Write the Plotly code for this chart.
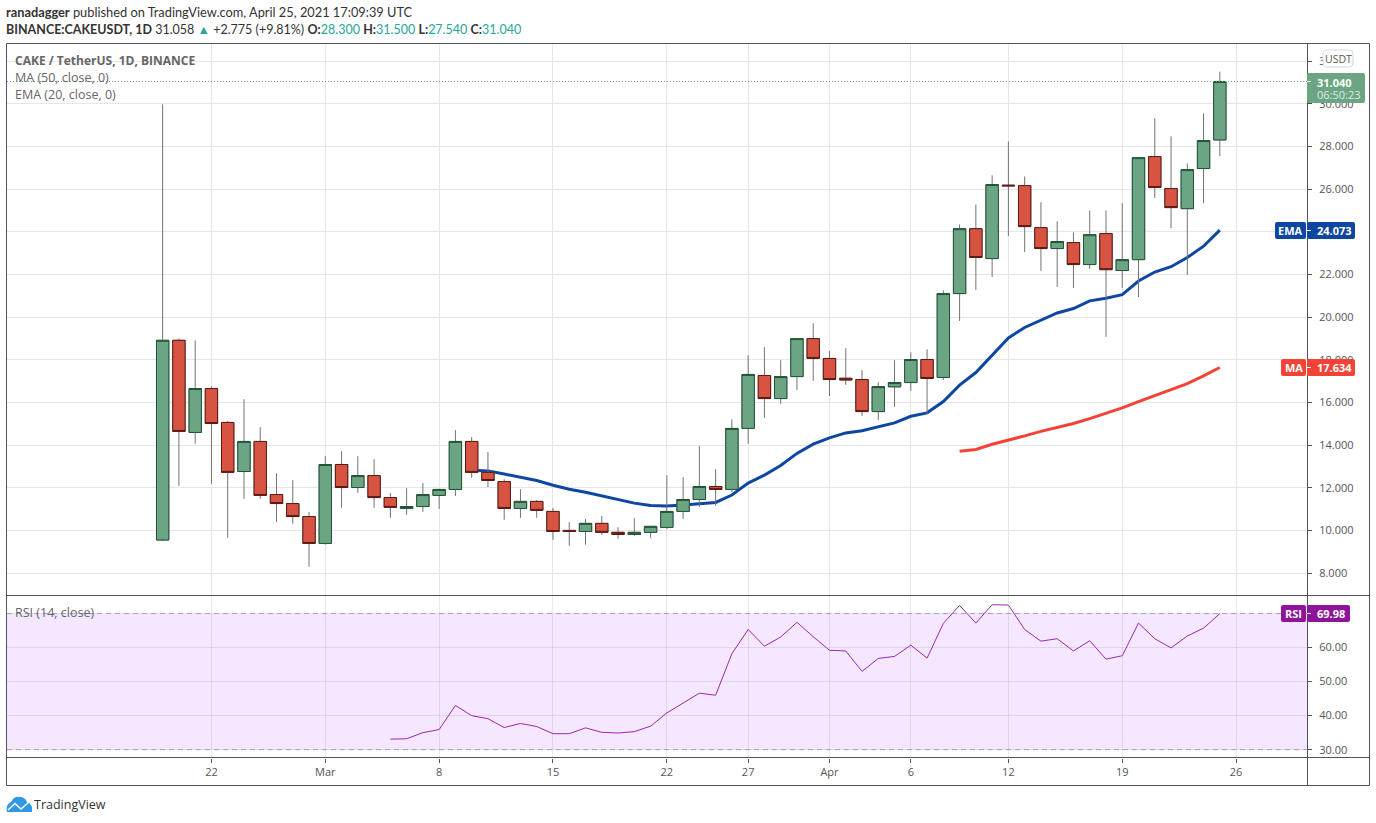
import pandas as pd
import plotly.graph_objects as go

W = 1376
H = 823

dates = pd.date_range("2021-02-19", "2021-04-25", freq="D")

opens = [9.55, 18.91, 14.59, 16.65, 15.06, 12.76, 14.17, 11.68, 11.26, 10.65,
         9.39, 13.09, 12.01, 12.57, 11.54, 11.03, 11.12, 11.64, 11.92, 14.17,
         12.72, 12.29, 11.03, 11.36, 10.89, 10.00, 9.95, 10.33, 9.91, 9.81,
         9.91, 10.14, 10.89, 11.45, 12.06, 11.92, 14.78, 17.26, 16.18, 17.21,
         18.99, 18.06, 17.13, 17.07, 15.57, 16.73, 16.93, 18.01, 17.17, 21.10,
         24.14, 22.74, 26.18, 26.16, 24.19, 23.21, 23.49, 22.46, 23.91, 22.18,
         22.69, 27.52, 26.02, 25.08, 26.96, 28.30]
highs = [29.97, 19.00, 18.91, 16.75, 15.13, 16.15, 14.84, 12.68, 12.36, 10.86,
         13.48, 13.71, 13.48, 13.34, 11.75, 11.98, 12.22, 11.95, 14.70, 14.37,
         13.67, 12.40, 11.93, 11.42, 11.05, 10.39, 10.53, 10.67, 10.15, 10.58,
         10.20, 12.59, 12.50, 13.95, 12.87, 15.21, 18.21, 18.59, 17.98, 18.99,
         19.71, 18.40, 18.54, 17.51, 16.95, 17.98, 18.35, 18.49, 21.25, 24.34,
         25.28, 26.64, 28.23, 26.59, 25.38, 24.49, 23.97, 25.00, 25.00, 25.33,
         27.50, 29.31, 28.47, 27.20, 29.55, 31.50]
lows = [9.50, 12.09, 14.06, 12.18, 9.65, 11.48, 11.48, 10.40, 10.31, 8.30,
        9.33, 11.06, 11.76, 11.06, 10.59, 10.73, 10.87, 11.01, 11.61, 12.46,
        12.03, 10.50, 10.59, 10.59, 9.56, 9.28, 9.33, 9.79, 9.61, 9.75,
        9.65, 10.05, 10.54, 11.11, 11.15, 11.80, 14.06, 15.27, 15.93, 16.59,
        17.01, 16.30, 16.82, 15.37, 15.18, 15.79, 16.54, 15.46, 17.05, 19.82,
        21.27, 21.88, 23.80, 23.05, 22.16, 21.41, 21.36, 22.25, 19.07, 21.36,
        20.94, 25.58, 24.17, 21.97, 25.33, 27.54]
closes = [18.91, 14.64, 16.65, 15.01, 12.72, 14.17, 11.64, 11.26, 10.65, 9.39,
          13.09, 12.01, 12.57, 11.54, 11.08, 11.12, 11.68, 11.92, 14.17, 12.72,
          12.34, 11.03, 11.36, 10.94, 9.95, 9.95, 10.33, 9.91, 9.81, 9.91,
          10.19, 10.89, 11.45, 12.06, 11.92, 14.78, 17.31, 16.18, 17.21, 18.99,
          18.06, 17.07, 17.05, 15.57, 16.74, 16.93, 18.01, 17.12, 21.10, 24.14,
          22.79, 26.21, 26.15, 24.24, 23.21, 23.54, 22.46, 23.86, 22.22, 22.69,
          27.47, 26.07, 25.13, 26.91, 28.27, 31.04]

# EMA starts Mar 10, MA starts Apr 9, RSI starts Mar 5
ema_values = [12.82, 12.79, 12.64, 12.50, 12.34, 12.12, 11.93, 11.79, 11.61, 11.43,
              11.28, 11.17, 11.14, 11.19, 11.26, 11.31, 11.66, 12.22, 12.59, 13.04,
              13.61, 14.04, 14.34, 14.57, 14.67, 14.87, 15.04, 15.35, 15.51, 16.04,
              16.81, 17.40, 18.20, 19.02, 19.51, 19.85, 20.19, 20.40, 20.76, 20.88,
              21.05, 21.69, 22.11, 22.36, 22.79, 23.32, 24.073]
ma_values = [13.71, 13.79, 14.04, 14.22, 14.43, 14.64, 14.81, 15.01, 15.24, 15.48,
             15.74, 16.04, 16.32, 16.57, 16.88, 17.24, 17.634]
rsi_values = [33.1, 33.2, 35.0, 35.9, 43.0, 40.0, 39.1, 36.5, 37.7, 36.8,
              34.7, 34.7, 36.4, 35.1, 34.9, 35.3, 36.9, 40.8, 43.7, 46.6,
              46.0, 58.2, 65.3, 60.4, 63.1, 67.4, 63.2, 59.2, 59.0, 53.0,
              56.8, 57.4, 60.7, 56.9, 67.1, 72.4, 67.2, 72.6, 72.5, 65.3,
              61.9, 62.6, 59.0, 62.0, 56.6, 57.6, 67.2, 62.6, 59.9, 63.4,
              65.7, 69.98]

tick_dates = ["2021-02-22", "2021-03-01", "2021-03-08", "2021-03-15", "2021-03-22", "2021-03-27",
              "2021-04-01", "2021-04-06", "2021-04-12", "2021-04-19", "2021-04-26"]
tick_text = ["22", "Mar", "8", "15", "22", "27", "Apr", "6", "12", "19", "26"]
price_ticks = [8, 10, 12, 14, 16, 18, 20, 22, 24, 26, 28, 30, 32]
rsi_ticks = [30, 40, 50, 60, 70]

last_price = 31.04
ema_last = "24.073"
ma_last = "17.634"
rsi_last = "69.98"

GREEN = "#6ba583"
GREEN_EDGE = "#225437"
RED = "#d75442"
RED_EDGE = "#5b1a13"
WICK = "#737375"
BLUE = "#0d47a1"
ORANGE = "#f44336"
PURPLE = "#8e1599"
RSI_LINE = "#9c27b0"
FRAME = "#50535e"
GRID = "#e6e6e6"
TEXT = "#555555"
TEAL = "#26a69a"
FONT = "Open Sans"
HEAD_FONT = "Lato"


def fx(x):
    return x / W


def fy(y):
    return 1 - y / H


def path(*parts):
    # parts are SVG commands and pixel pairs, turned into paper coordinates
    out = []
    i = 0
    while i < len(parts):
        if isinstance(parts[i], str):
            out.append(parts[i])
            i += 1
        else:
            out.append(f"{fx(parts[i]):.5f},{fy(parts[i + 1]):.5f}")
            i += 2
    return " ".join(out)


def rounded(x0, y0, x1, y1, r=2):
    return path("M", x0 + r, y0, "L", x1 - r, y0, "Q", x1, y0, x1, y0 + r,
                "L", x1, y1 - r, "Q", x1, y1, x1 - r, y1,
                "L", x0 + r, y1, "Q", x0, y1, x0, y1 - r,
                "L", x0, y0 + r, "Q", x0, y0, x0 + r, y0, "Z")


shapes = []
annotations = []


def label(x, y, text, size=12, color=TEXT, anchor="left", family=FONT):
    annotations.append(dict(xref="paper", yref="paper", x=fx(x), y=fy(y), text=text,
                            showarrow=False, xanchor=anchor, yanchor="middle",
                            font=dict(family=family, size=size, color=color),
                            borderpad=0, borderwidth=0))


def box(x0, y0, x1, y1, fill, line="rgba(0,0,0,0)", r=2):
    shapes.append(dict(type="path", xref="paper", yref="paper", path=rounded(x0, y0, x1, y1, r),
                       fillcolor=fill, line=dict(color=line, width=1), layer="above"))


def seg(x0, y0, x1, y1, color=FRAME, width=1):
    shapes.append(dict(type="line", xref="paper", yref="paper", x0=fx(x0), y0=fy(y0),
                       x1=fx(x1), y1=fy(y1), line=dict(color=color, width=width), layer="above"))


def tag(y, name, value, color, name_x, value_x=1355):
    box(name_x, y - 8.5, 1306, y + 8.5, color)
    box(1307, y - 8.5, value_x, y + 8.5, color)
    seg(1307, y, 1311, y, "#ffffff")
    label((name_x + 1306) / 2, y, f"<b>{name}</b>", 11, "#ffffff", "center")
    label(1317, y, f"<b>{value}</b>", 11, "#ffffff")


fig = go.Figure()

fig.add_trace(go.Scatter(x=dates[19:], y=ema_values, mode="lines", xaxis="x", yaxis="y",
                         line=dict(color=BLUE, width=3)))
fig.add_trace(go.Scatter(x=dates[49:], y=ma_values, mode="lines", xaxis="x", yaxis="y",
                         line=dict(color=ORANGE, width=3)))

# wicks first, bodies on top, because plotly gives both the same line colour
fig.add_trace(go.Candlestick(x=dates, open=opens, high=highs, low=lows, close=closes,
                             xaxis="x", yaxis="y3", whiskerwidth=0,
                             increasing=dict(line=dict(color=WICK, width=1), fillcolor=GREEN),
                             decreasing=dict(line=dict(color=WICK, width=1), fillcolor=RED)))
body_top = [max(o, c) for o, c in zip(opens, closes)]
body_low = [min(o, c) for o, c in zip(opens, closes)]
fig.add_trace(go.Candlestick(x=dates, open=opens, high=body_top, low=body_low, close=closes,
                             xaxis="x", yaxis="y3", whiskerwidth=0,
                             increasing=dict(line=dict(color=GREEN_EDGE, width=1), fillcolor=GREEN),
                             decreasing=dict(line=dict(color=RED_EDGE, width=1), fillcolor=RED)))

fig.add_trace(go.Scatter(x=dates[14:], y=rsi_values, mode="lines", xaxis="x2", yaxis="y2",
                         line=dict(color=RSI_LINE, width=1), cliponaxis=True))

# RSI band and its dashed limits
shapes.append(dict(type="rect", xref="x2 domain", yref="y2", x0=0, x1=1, y0=30, y1=70,
                   fillcolor="rgba(153,21,255,0.1)", line=dict(width=0), layer="below"))
for level in [30, 70]:
    shapes.append(dict(type="line", xref="x2 domain", yref="y2", x0=0, x1=1, y0=level, y1=level,
                       line=dict(color="rgba(120,110,130,0.55)", width=1, dash="5px,4px"), layer="above"))
# last price line
shapes.append(dict(type="line", xref="x domain", yref="y", x0=0, x1=1, y0=last_price, y1=last_price,
                   line=dict(color=GREEN, width=1, dash="1px,2px"), layer="above"))

# frame
seg(6.5, 43.5, 1369.5, 43.5)
seg(6.5, 595.5, 1369.5, 595.5)
seg(6.5, 757.5, 1369.5, 757.5)
seg(6.5, 785.5, 1369.5, 785.5)
seg(6.5, 43.5, 6.5, 785.5)
seg(1307.5, 43.5, 1307.5, 785.5)
seg(1369.5, 43.5, 1369.5, 785.5)

# price tags
box(1307, 73, 1365, 103, GREEN)
seg(1307, 81.5, 1311, 81.5, "#ffffff")
label(1317, 82, "<b>31.040</b>", 11, "#ffffff")
label(1317, 95, "06:50:23", 11, "#dcebe3")
box(1323, 50, 1353, 67, "#ffffff", "#d6d8e0", 4)
label(1338, 58.5, "USDT", 10.5, TEXT, "center")
tag(230.5, "EMA", ema_last, BLUE, 1275)
tag(367.5, "MA", ma_last, ORANGE, 1281)
tag(613.5, "RSI", rsi_last, PURPLE, 1281, 1350)

# header
label(6, 12, "<b>ranadagger</b> published on TradingView.com, April 25, 2021 17:09:39 UTC",
      12.8, "#333333", family=HEAD_FONT)
label(6, 29.5, "<b>BINANCE:CAKEUSDT, 1D</b> 31.058 "
               f"<span style='color:{TEAL}'>▲</span> +2.775 (+9.81%) "
               f"<b>O:</b><span style='color:{TEAL}'>28.300</span> "
               f"<b>H:</b><span style='color:{TEAL}'>31.500</span> "
               f"<b>L:</b><span style='color:{TEAL}'>27.540</span> "
               f"<b>C:</b><span style='color:{TEAL}'>31.040</span>", 12.5, "#333333", family=HEAD_FONT)

# pane legends
label(15, 60.5, "<b>CAKE / TetherUS, 1D, BINANCE</b>", 12, "#666666")
label(15, 77.5, "MA (50, close, 0)", 12.5, "#666666")
label(15, 94.5, "EMA (20, close, 0)", 12.5, "#666666")
label(15, 612.5, "RSI (14, close)", 12.5, "#666666")

# logo
shapes.append(dict(type="path", xref="paper", yref="paper", layer="above",
                   path=path("M", 7, 812, "Q", 5, 805, 11, 802, "Q", 14, 796, 20, 797,
                             "Q", 25, 797, 27, 802, "Q", 33, 804, 32, 812, "Z"),
                   fillcolor="#2e9ae6", line=dict(width=0)))
shapes.append(dict(type="path", xref="paper", yref="paper", layer="above",
                   path=path("M", 8, 810, "L", 15, 803.5, "L", 21, 809, "L", 29, 802),
                   line=dict(color="#ffffff", width=1.5)))
label(34, 804.5, "TradingView", 12.5, "#333333")

x_range = ["2021-02-09 10:19", "2021-04-30 08:38"]
price_range = [6.95, 32.82]
rsi_range = [27.7, 75.3]

fig.update_layout(
    width=W,
    height=H,
    margin=dict(l=0, r=0, t=0, b=0),
    paper_bgcolor="#ffffff",
    plot_bgcolor="#ffffff",
    showlegend=False,
    boxgap=0.24,
    boxgroupgap=0,
    shapes=shapes,
    annotations=annotations,
    font=dict(family=FONT, size=11, color=TEXT),
    xaxis=dict(domain=[fx(7), fx(1307)], range=x_range, anchor="y", type="date",
               rangeslider=dict(visible=False), tickvals=tick_dates, ticktext=tick_text,
               showticklabels=False, ticks="", showgrid=True, gridcolor=GRID, gridwidth=1,
               zeroline=False, showline=False),
    xaxis2=dict(domain=[fx(7), fx(1307)], range=x_range, anchor="y2", type="date",
                tickvals=tick_dates, ticktext=tick_text, ticks="outside", ticklen=4,
                tickcolor=FRAME, tickfont=dict(family=FONT, size=11, color=TEXT),
                showgrid=True, gridcolor="rgba(42,46,57,0.1)", gridwidth=1,
                zeroline=False, showline=False),
    yaxis=dict(domain=[fy(595.5), fy(43.5)], range=price_range, anchor="x", side="right",
               tickvals=price_ticks, tickformat=".3f", ticks="outside", ticklen=4,
               tickcolor=FRAME, tickfont=dict(family=FONT, size=11, color=TEXT),
               ticklabelstandoff=5, showgrid=True, gridcolor=GRID, gridwidth=1,
               zeroline=False, showline=False),
    yaxis2=dict(domain=[fy(757.5), fy(595.5)], range=rsi_range, anchor="x2", side="right",
                tickvals=rsi_ticks, tickformat=".2f", ticks="outside", ticklen=4,
                tickcolor=FRAME, tickfont=dict(family=FONT, size=11, color=TEXT),
                ticklabelstandoff=5, showgrid=True, gridcolor="rgba(42,46,57,0.1)", gridwidth=1,
                zeroline=False, showline=False),
    yaxis3=dict(overlaying="y", range=price_range, side="right", visible=False,
                showgrid=False, zeroline=False),
)

fig.write_html("out.html", config=dict(displayModeBar=False),
               post_script="document.body.style.margin='0';")
